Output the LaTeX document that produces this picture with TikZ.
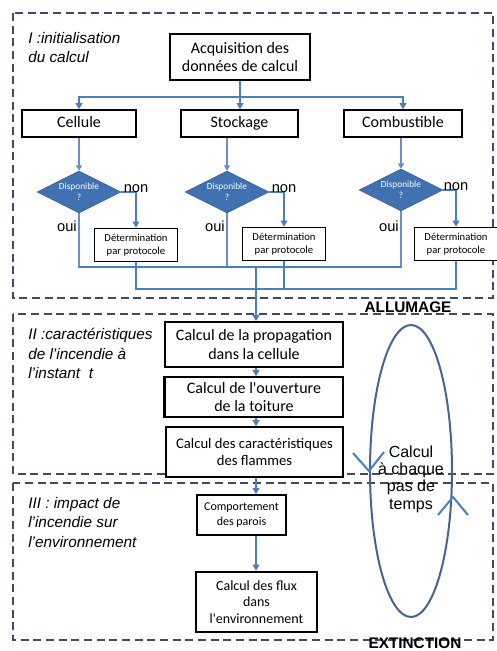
\documentclass[tikz,border=0pt]{standalone}
\usepackage{fontspec}
\setmainfont{Liberation Sans}
\newfontfamily\calibri{Carlito}
\usepackage{tikz}
\usetikzlibrary{shapes.geometric,arrows.meta,positioning,calc}
\definecolor{flowblue}{RGB}{74,126,190}
\definecolor{diafill}{RGB}{66,113,178}
\definecolor{panelgray}{RGB}{62,74,102}
\definecolor{loopblue}{RGB}{72,98,146}
\tikzset{
  panel/.style={draw=panelgray, line width=1.3pt, dash pattern=on 6pt off 3.5pt},
  calcbox/.style={draw, line width=1.2pt, fill=white, align=center, inner sep=1pt, font=\calibri\fontsize{12}{14}\selectfont},
  onebox/.style={calcbox, text height=8.5pt, text depth=2.5pt, minimum height=20.25pt},
  protobox/.style={calcbox, line width=1pt, minimum width=62pt, minimum height=25pt, font=\calibri\fontsize{8}{9.5}\selectfont},
  dispo/.style={diamond, aspect=2, fill=diafill, draw=diafill!80!black, inner sep=0pt, minimum width=63pt, minimum height=31.5pt, text=white, align=center, font=\calibri\fontsize{7}{8}\selectfont},
  flow/.style={draw=flowblue, line width=1.4pt, -{Triangle[length=4.5pt,width=5pt]}},
  feed/.style={draw=flowblue!85, line width=0.8pt, -{Triangle[length=4pt,width=4.5pt]}},
  busline/.style={draw=flowblue, line width=1.2pt},
  ouiline/.style={draw=flowblue!85, line width=0.8pt},
  answer/.style={font=\fontsize{11}{13}\selectfont, inner sep=0pt},
  phase/.style={font=\itshape\fontsize{11.5}{14.6}\selectfont, align=left, anchor=north west, inner sep=0pt},
  milestone/.style={font=\bfseries\fontsize{11.5}{14}\selectfont, inner sep=0pt},
}
\begin{document}
\begin{tikzpicture}[x=0.75pt, y=-0.75pt]
    \useasboundingbox (0,0) rectangle (497,651);
    \draw[panel] (13,13) rectangle (493,298);
    \draw[panel] (13,314) rectangle (493,474);
    \draw[panel] (13,483) rectangle (493,640);
    \node[phase] (lab1) at (28,32) {I :initialisation\\du calcul};
    \node[phase] (lab2) at (28,328) {II :caractéristiques\\de l'incendie à\\l'instant \ t};
    \node[phase] (lab3) at (28,497) {III : impact de\\l'incendie sur\\l'environnement};

    \node[calcbox, line width=1.5pt, minimum width=105pt, minimum height=34.5pt] (acq) at (240,57) {Acquisition des\\données de calcul};
    \node[onebox, minimum width=85.5pt] (cell) at (79,123.5) {Cellule};
    \node[onebox, minimum width=87.75pt] (stock) at (239.5,123.5) {Stockage};
    \node[onebox, minimum width=88.5pt] (comb) at (403,123.5) {Combustible};
    \coordinate (split) at ($(acq.south)+(0,16)$);
    \draw[flow] (acq.south) -- (acq.south |- stock.north);
    \draw[flow] (split) -| (cell.north);
    \draw[flow] (split) -| (comb.north);

    \node[dispo] (dia1) at (79,192) {Disponible\\?};
    \node[dispo] (dia2) at (227,192) {Disponible\\?};
    \node[dispo] (dia3) at (401,190) {Disponible\\?};
    \draw[feed] (cell.south) -- (dia1.north);
    \draw[feed] (stock.south -| dia2.north) -- (dia2.north);
    \draw[feed] (comb.south -| dia3.north) -- (dia3.north);

    \node[protobox] (proto1) at (136,245) {Détermination\\par protocole};
    \node[protobox] (proto2) at (284,244) {Détermination\\par protocole};
    \node[protobox] (proto3) at (456,244) {Détermination\\par protocole};
    \draw[flow] (dia1.east) -| (proto1.north);
    \draw[flow] (dia2.east) -| (proto2.north);
    \draw[flow] (dia3.east) -| (proto3.north);
    \node[answer, anchor=base] (non1) at (dia1.east -| proto1.north) {non};
    \node[answer, anchor=base] (non2) at (dia2.east -| proto2.north) {non};
    \node[answer, anchor=base] (non3) at (dia3.east -| proto3.north) {non};
    \node[answer, anchor=base east] (oui1) at ($(dia1.south)+(-2,18)$) {oui};
    \node[answer, anchor=base east] (oui2) at ($(dia2.south)+(-2,18)$) {oui};
    \node[answer, anchor=base east] (oui3) at ($(dia3.south)+(-2,20)$) {oui};

    \coordinate (ouibus) at (256,267);
    \coordinate (protobus) at (256,289);
    \draw[ouiline] (dia1.south) |- (ouibus) -| (dia3.south);
    \draw[ouiline] (dia2.south) -- (dia2.south |- ouibus);
    \draw[busline] (dia1.south |- ouibus) -- (dia3.south |- ouibus);
    \draw[busline] (proto1.south) |- (protobus) -| (proto3.south);
    \draw[busline] (proto2.south) -- (proto2.south |- protobus);

    \node[calcbox, minimum width=133.5pt, minimum height=33.75pt] (prop) at (254,344.5) {Calcul de la propagation\\dans la cellule};
    \node[calcbox, minimum width=133.5pt, minimum height=30pt] (ouv) at (254,397) {Calcul de l'ouverture\\de la toiture};
    \draw[line width=2.4pt] (ouv.north west) -- (ouv.south west);
    \node[calcbox, minimum width=133pt, minimum height=37.5pt, font=\calibri\fontsize{11}{13}\selectfont] (carac) at (254.5,452) {Calcul des caractéristiques\\des flammes};
    \draw[flow] (ouibus) -- (ouibus |- prop.north);
    \draw[flow] (prop.south -| ouibus) -- (ouv.north -| ouibus);
    \draw[flow] (ouv.south -| ouibus) -- (carac.north -| ouibus);

    \node[calcbox, minimum width=66.75pt, minimum height=30pt, font=\calibri\fontsize{9}{11.5}\selectfont] (comp) at (241.5,515) {Comportement\\des parois};
    \node[calcbox, line width=2pt, minimum width=90.75pt, minimum height=45pt, font=\calibri\fontsize{10.5}{12.5}\selectfont] (flux) at (256.5,602) {Calcul des flux\\dans\\l'environnement};
    \draw[flow] (carac.south -| ouibus) -- (comp.north -| ouibus);
    \draw[flow] (comp.south -| ouibus) -- (flux.north -| ouibus);

    \node[ellipse, draw=loopblue, line width=1.5pt, minimum width=61.5pt, minimum height=219pt, inner sep=0pt] (loop) at (411,471) {};
    \node[font=\fontsize{12}{13}\selectfont, align=center] (looptext) at (411,479) {Calcul\\à chaque\\pas de\\temps};
    \draw[flowblue, line width=1.5pt] ($(loop.west)+(-16,-18)$) -- (loop.west) -- ($(loop.west)+(15,-19)$);
    \coordinate (upmark) at ($(loop.east)+(0,26)$);
    \draw[flowblue, line width=1.5pt] ($(upmark)+(-15,18)$) -- (upmark) -- ($(upmark)+(15,18)$);

    \node[milestone] (allum) at (408,307) {ALLUMAGE};
    \node[milestone] (extinct) at (415,643) {EXTINCTION};
\end{tikzpicture}
\end{document}
